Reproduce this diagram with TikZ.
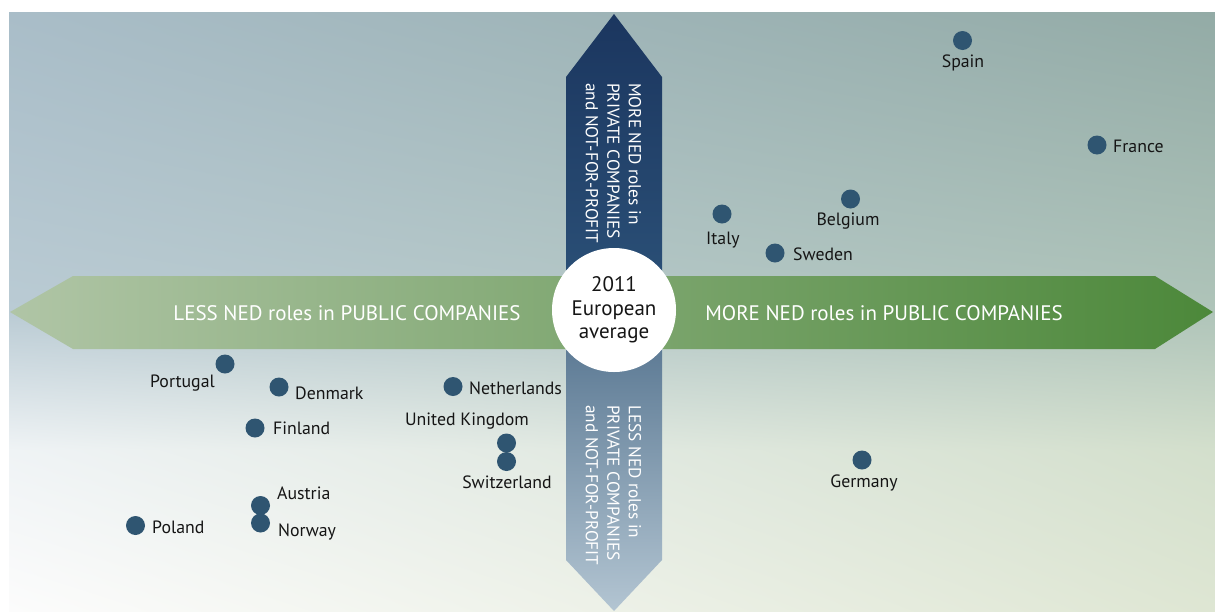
\documentclass[tikz,border=0pt]{standalone}
\usepackage{fontspec}
\setmainfont{PT Sans}
\usetikzlibrary{shadings}
\definecolor{dotc}{HTML}{2F5571}
\definecolor{labc}{HTML}{151515}
\definecolor{bgA}{HTML}{A9BDC8}
\definecolor{bgB}{HTML}{93ABA6}
\definecolor{bgC}{HTML}{BACBD4}
\definecolor{bgD}{HTML}{AFC4B9}
\definecolor{bgE}{HTML}{EFF3F5}
\definecolor{bgF}{HTML}{D3DFCC}
\definecolor{bgG}{HTML}{FCFCFC}
\definecolor{bgH}{HTML}{DEE6D3}
\definecolor{hl}{HTML}{B0C5A6}
\definecolor{hm}{HTML}{78A15D}
\definecolor{hr}{HTML}{4C883A}
\definecolor{vt}{HTML}{1B365F}
\definecolor{vm}{HTML}{2C5279}
\definecolor{vn}{HTML}{52718D}
\definecolor{vb}{HTML}{B3C5D2}
\begin{document}
\begin{tikzpicture}[x=1pt,y=-1pt,
  dot/.style={circle, fill=dotc, inner sep=0pt, minimum size=19pt},
  lab/.style={font=\fontsize{17.8}{20}\selectfont, text=labc, inner sep=0pt},
  arrtext/.style={font=\fontsize{21}{24}\selectfont, text=white, inner sep=0pt},
  vtext/.style={font=\fontsize{17.3}{21.5}\selectfont, text=white, inner sep=0pt, align=left, rotate=-90}]
\useasboundingbox (0,0) rectangle (1215,611);
% background
\shade[upper left=bgA, upper right=bgB, lower left=bgC, lower right=bgD] (9,12) rectangle (1215,312);
\shade[upper left=bgC, upper right=bgD, lower left=bgE, lower right=bgF] (9,312) rectangle (1215,450);
\shade[upper left=bgE, upper right=bgF, lower left=bgG, lower right=bgH] (9,450) rectangle (1215,611);
% vertical arrow
\shade[top color=vt, bottom color=vm] (614,14) -- (662,77) -- (662,313) -- (566,313) -- (566,77) -- cycle;
\shade[top color=vn, bottom color=vb] (566,312) -- (662,312) -- (662,560) -- (614,611) -- (566,560) -- cycle;
% horizontal arrow
\shade[left color=hl, middle color=hm, right color=hr] (10,312) -- (73,276) -- (1155,276) -- (1213,312) -- (1155,349) -- (73,349) -- cycle;
\node[arrtext] (less) at (347,313) {LESS NED roles in PUBLIC COMPANIES};
\node[arrtext] (more) at (884,313) {MORE NED roles in PUBLIC COMPANIES};
\node[vtext, anchor=west] (vup) at (613.5,83) {MORE NED roles in\\PRIVATE COMPANIES\\and NOT-FOR-PROFIT};
\node[vtext, anchor=west] (vdown) at (613.5,405) {LESS NED roles in\\PRIVATE COMPANIES\\and NOT-FOR-PROFIT};
% centre circle
\node[circle, fill=white, minimum size=124pt, inner sep=0pt] (avg) at (614,310) {};
\node[font=\fontsize{21}{23.5}\selectfont, text=labc, align=center, inner sep=0pt] (avgt) at (614,310) {2011\\European\\average};
% countries
\node[dot] (spain) at (962.5,40.5) {};
\node[lab] (spainl) at (963,63) {Spain};
\node[dot] (france) at (1097,145) {};
\node[lab, anchor=west] (francel) at (1113,146) {France};
\node[dot] (belgium) at (850.5,199) {};
\node[lab] (belgiuml) at (848,221) {Belgium};
\node[dot] (italy) at (722,214) {};
\node[lab] (italyl) at (723,240) {Italy};
\node[dot] (sweden) at (775,253) {};
\node[lab, anchor=west] (swedenl) at (793,254) {Sweden};
\node[dot] (portugal) at (225,364) {};
\node[lab, anchor=east] (portugall) at (215,383) {Portugal};
\node[dot] (denmark) at (279,387) {};
\node[lab, anchor=west] (denmarkl) at (295,393) {Denmark};
\node[dot] (finland) at (255,428) {};
\node[lab, anchor=west] (finlandl) at (273,428) {Finland};
\node[dot] (austria) at (260.5,505.5) {};
\node[lab, anchor=west] (austrial) at (277,493) {Austria};
\node[dot] (norway) at (260.5,523) {};
\node[lab, anchor=west] (norwayl) at (278,532) {Norway};
\node[dot] (poland) at (135.5,525.5) {};
\node[lab, anchor=west] (polandl) at (152,527) {Poland};
\node[dot] (netherlands) at (453,386.5) {};
\node[lab, anchor=west] (netherlandsl) at (469,388) {Netherlands};
\node[dot] (uk) at (506.5,443) {};
\node[lab] (ukl) at (467,421) {United Kingdom};
\node[dot] (switzerland) at (506.5,461.5) {};
\node[lab] (switzerlandl) at (507,482) {Switzerland};
\node[dot] (germany) at (862,460) {};
\node[lab] (germanyl) at (864,483) {Germany};
\end{tikzpicture}
\end{document}
